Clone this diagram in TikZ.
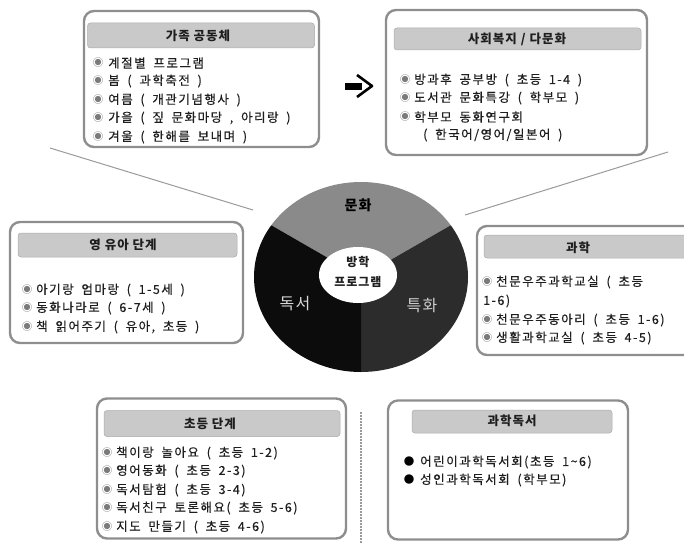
\documentclass[tikz,border=0pt]{standalone}
\usepackage{fontspec}
\newfontfamily\kr[LetterSpace=12, WordSpace=1.8, FakeBold=0.4]{Noto Sans CJK KR}
\newfontfamily\krh[LetterSpace=8]{Noto Sans CJK KR}
\definecolor{boxgray}{HTML}{8E8E8E}
\definecolor{hdrgray}{HTML}{C9C9C9}
\definecolor{txt}{HTML}{1E1E1E}
\definecolor{bulgray}{HTML}{7A7A7A}
\definecolor{segA}{HTML}{8A8A8A}
\definecolor{segB}{HTML}{2C2C2C}
\definecolor{segC}{HTML}{0C0C0C}
\definecolor{linegray}{HTML}{9A9A9A}
\tikzset{
  panel/.style={draw=boxgray, line width=2.4pt, rounded corners=10pt, inner sep=0pt},
  hdrbar/.style={fill=hdrgray, draw=hdrgray!85!black, line width=0.5pt, rounded corners=3pt, inner sep=0pt},
  hdrtxt/.style={inner sep=0pt, text=txt, font=\krh\bfseries\fontsize{12.5}{14}\selectfont},
  item/.style={anchor=west, inner sep=0pt, text=txt, font=\kr\fontsize{12.5}{14}\selectfont},
  bul/.style={inner sep=0pt, text=bulgray, font=\krh\fontsize{10.5}{11}\selectfont},
  dot/.style={inner sep=0pt, text=black, font=\krh\fontsize{10.5}{11}\selectfont},
  conn/.style={draw=linegray, line width=1pt},
  seglbl/.style={inner sep=0pt, font=\krh\fontsize{16}{18}\selectfont},
}
\begin{document}
\begin{tikzpicture}[x=1pt, y=-1pt]
\useasboundingbox (0,0) rectangle (684,543);
\clip (0,0) rectangle (684,543);

% ---- connector lines
\coordinate (l1a) at (50,148);
\coordinate (l1b) at (253,210);
\coordinate (l2a) at (668,152);
\coordinate (l2b) at (465,215);
\draw[conn] (l1a) -- (l1b);
\draw[conn] (l2a) -- (l2b);
\coordinate (va) at (361,412);
\coordinate (vb) at (361,545);
\draw[draw=linegray, line width=1.2pt, dash pattern=on 2pt off 1pt] (va) -- (vb);

% ---- central ring
\begin{scope}
  \clip (361,277) ellipse [x radius=107, y radius=95];
  \fill[segA] (361,277) -- (540.5,173.5) -- (540.5,150) -- (181.5,150) -- (181.5,173.5) -- cycle;
  \fill[segB] (361,277) -- (540.5,173.5) -- (540.5,400) -- (361,400) -- cycle;
  \fill[segC] (361,277) -- (361,400) -- (181.5,400) -- (181.5,173.5) -- cycle;
\end{scope}
\fill[white] (358,275) ellipse [x radius=39, y radius=28];
\node[seglbl, text=black, font=\krh\bfseries\fontsize{14}{16}\selectfont] (munhwa) at (358,205) {문화};
\node[seglbl, text=white!85!black] (dokseo) at (295,304) {독서};
\node[seglbl, text=white!80!black] (teukhwa) at (422,306) {특화};
\node[hdrtxt, font=\krh\bfseries\fontsize{12}{14}\selectfont] (c1) at (358,262) {방학};
\node[hdrtxt, font=\krh\bfseries\fontsize{12}{14}\selectfont] (c2) at (358,282) {프로그램};

% ---- arrow
\fill[black] (345,83) rectangle (362,90);
\draw[line width=2.6pt, line join=round] (357,75) -- (372,86) -- (357,97);

% ---- box 1
\node[panel, minimum width=235, minimum height=136] (b1) at (201.5,79) {};
\node[hdrbar, minimum width=227, minimum height=25] (h1) at (201,35.5) {};
\node[hdrtxt] (t1) at (198,36) {가족 공동체};
\node[bul] (p11) at (98,63) {◉}; \node[item] (i11) at (108,63) {계절별 프로그램};
\node[bul] (p12) at (98,81) {◉}; \node[item] (i12) at (108,81) {봄 ( 과학축전 )};
\node[bul] (p13) at (98,100) {◉}; \node[item] (i13) at (108,100) {여름 ( 개관기념행사 )};
\node[bul] (p14) at (98,118) {◉}; \node[item] (i14) at (108,118) {가을 ( 짚 문화마당 , 아리랑 )};
\node[bul] (p15) at (98,137) {◉}; \node[item] (i15) at (108,137) {겨울 ( 한해를 보내며 )};

% ---- box 2
\node[panel, minimum width=261, minimum height=145] (b2) at (516.5,82.5) {};
\node[hdrbar, minimum width=247, minimum height=22] (h2) at (517.5,39) {};
\node[hdrtxt] (t2) at (517,39) {사회복지 / 다문화};
\node[bul] (p21) at (405,80) {◉}; \node[item] (i21) at (414,80) {방과후 공부방 ( 초등 1-4 )};
\node[bul] (p22) at (405,98) {◉}; \node[item] (i22) at (414,98) {도서관 문화특강 ( 학부모 )};
\node[bul] (p23) at (405,117) {◉}; \node[item] (i23) at (414,117) {학부모 동화연구회};
\node[item] (i24) at (423,135) {( 한국어/영어/일본어 )};

% ---- box 3
\node[panel, minimum width=233, minimum height=121] (b3) at (126.5,282.5) {};
\node[hdrbar, minimum width=219, minimum height=24] (h3) at (127.5,245) {};
\node[hdrtxt] (t3) at (123,245) {영 유아 단계};
\node[bul] (p31) at (27,290) {◉}; \node[item] (i31) at (36,290) {아기랑 엄마랑 ( 1-5세 )};
\node[bul] (p32) at (27,308) {◉}; \node[item] (i32) at (36,308) {동화나라로 ( 6-7세 )};
\node[bul] (p33) at (27,327) {◉}; \node[item] (i33) at (36,327) {책 읽어주기 ( 유아, 초등 )};

% ---- box 4
\node[panel, minimum width=223, minimum height=129] (b4) at (588.5,290.5) {};
\node[hdrbar, minimum width=211, minimum height=23] (h4) at (589.5,246.5) {};
\node[hdrtxt] (t4) at (578,248) {과학};
\node[bul] (p41) at (487,282) {◉}; \node[item] (i41) at (496,282) {천문우주과학교실 ( 초등};
\node[item] (i42) at (483,301) {1-6)};
\node[bul] (p43) at (487,320) {◉}; \node[item] (i43) at (496,320) {천문우주동아리 ( 초등 1-6)};
\node[bul] (p44) at (487,338) {◉}; \node[item] (i44) at (496,338) {생활과학교실 ( 초등 4-5)};

% ---- box 5
\node[panel, minimum width=249, minimum height=140] (b5) at (221.5,468.5) {};
\node[hdrbar, minimum width=236, minimum height=26] (h5) at (222,423.5) {};
\node[hdrtxt] (t5) at (210,424) {초등 단계};
\node[bul] (p51) at (107,453) {◉}; \node[item] (i51) at (116,453) {책이랑 놀아요 ( 초등 1-2)};
\node[bul] (p52) at (107,471) {◉}; \node[item] (i52) at (116,471) {영어동화 ( 초등 2-3)};
\node[bul] (p53) at (107,490) {◉}; \node[item] (i53) at (116,490) {독서탐험 ( 초등 3-4)};
\node[bul] (p54) at (107,508) {◉}; \node[item] (i54) at (116,508) {독서친구 토론해요( 초등 5-6)};
\node[bul] (p55) at (107,527) {◉}; \node[item] (i55) at (116,527) {지도 만들기 ( 초등 4-6)};

% ---- box 6
\node[panel, minimum width=240, minimum height=139] (b6) at (508,470) {};
\node[hdrbar, minimum width=200, minimum height=23] (h6) at (512,421.5) {};
\node[hdrtxt] (t6) at (512,421) {과학독서};
\node[dot] (p61) at (409,462) {●}; \node[item] (i61) at (420,462) {어린이과학독서회(초등 1\textasciitilde6)};
\node[dot] (p62) at (409,480) {●}; \node[item] (i62) at (420,480) {성인과학독서회 (학부모)};
\end{tikzpicture}
\end{document}
